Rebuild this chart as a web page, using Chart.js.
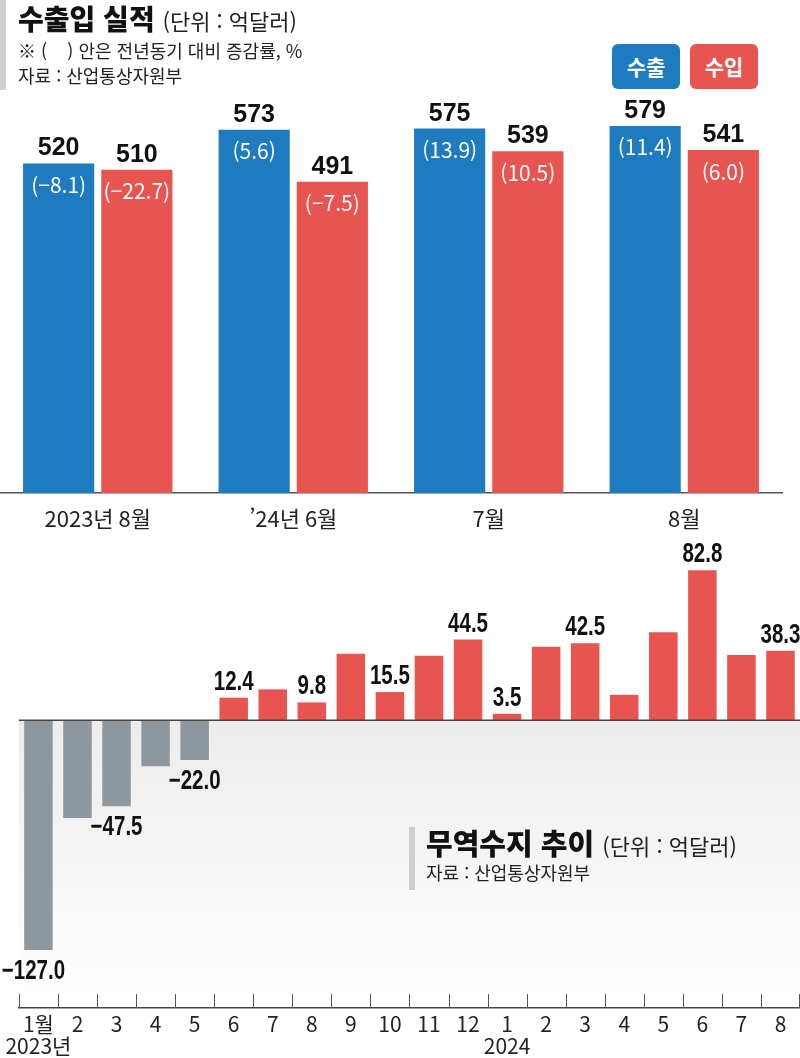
<!DOCTYPE html>
<html lang="ko">
<head>
<meta charset="utf-8">
<script src="https://cdn.jsdelivr.net/npm/chart.js@4"></script>
<style>
  body { margin: 0; background: #fff; font-family: "Noto Sans CJK KR", sans-serif; }
  #wrap { position: relative; width: 800px; height: 1058px; overflow: hidden; }
  canvas { position: absolute; left: 0; }
  #topChart { top: 0; }
  #bottomChart { top: 540px; }
  .bar { position: absolute; background: #cfcfcf; }
  .title { position: absolute; white-space: nowrap; color: #111; line-height: 1; }
  .title b { font-weight: 900; }
  .unit { font-weight: 400; color: #222; }
  .note { position: absolute; white-space: nowrap; color: #222; line-height: 1; }
  .legend { position: absolute; top: 44px; width: 68px; height: 45px; border-radius: 6px;
            color: #fff; font-weight: 700; font-size: 21px; line-height: 45px; text-align: center; }
</style>
</head>
<body>
<div id="wrap">
  <canvas id="topChart" width="800" height="540"></canvas>
  <canvas id="bottomChart" width="800" height="518"></canvas>

  <div class="bar" style="left:0;top:0;width:6px;height:90px;"></div>
  <div class="title" style="left:18px;top:4px;font-size:28px;"><b>수출입 실적</b> <span class="unit" style="font-size:22px;">(단위 : 억달러)</span></div>
  <div class="note" style="left:18px;top:41px;font-size:18px;">※ (&nbsp;&nbsp;&nbsp;&nbsp;) 안은 전년동기 대비 증감률, %</div>
  <div class="note" style="left:18px;top:66px;font-size:18px;">자료 : 산업통상자원부</div>
  <div class="legend" style="left:612px;background:#1e7bbf;">수출</div>
  <div class="legend" style="left:690px;background:#e8544f;">수입</div>

  <div class="bar" style="left:409px;top:827px;width:6px;height:63px;"></div>
  <div class="title" style="left:426px;top:828px;font-size:29px;"><b>무역수지 추이</b> <span class="unit" style="font-size:22px;">(단위 : 억달러)</span></div>
  <div class="note" style="left:426px;top:863px;font-size:18px;">자료 : 산업통상자원부</div>
</div>

<script>
// 수출입 실적
const periods = ['2023년 8월', '’24년 6월', '7월', '8월'];
const exportValues = [520, 573, 575, 579];
const importValues = [510, 491, 539, 541];
const exportRates = ['(−8.1)', '(5.6)', '(13.9)', '(11.4)'];
const importRates = ['(−22.7)', '(−7.5)', '(10.5)', '(6.0)'];

// 무역수지 추이
const months = [['1월', '2023년'], '2', '3', '4', '5', '6', '7', '8', '9', '10', '11', '12',
                ['1', '2024'], '2', '3', '4', '5', '6', '7', '8'];
const balance = [-127.0, -54.0, -47.5, -25.5, -22.0, 12.4, 17.0, 9.8, 36.7, 15.5, 35.6, 44.5,
                 3.5, 40.5, 42.5, 14.0, 48.5, 82.8, 36.0, 38.3];
const balanceLabels = ['−127.0', null, '−47.5', null, '−22.0', '12.4', null, '9.8', null, '15.5', null, '44.5',
                       '3.5', null, '42.5', null, null, '82.8', null, '38.3'];

const BLUE = '#1e7bbf';
const RED = '#e8544f';
const GRAY = '#8e979e';
const NARROW = '"Liberation Sans Narrow", "Noto Sans CJK KR", sans-serif';

// squeeze text horizontally, the print font is a condensed one
function condensedText(ctx, text, x, y, sx) {
    ctx.save();
    ctx.translate(x, y);
    ctx.scale(sx, 1);
    ctx.fillText(text, 0, 0);
    ctx.restore();
}

const topLabels = {
    id: 'topLabels',
    afterDatasetsDraw(chart) {
        const ctx = chart.ctx;
        const rates = [exportRates, importRates];
        ctx.save();
        ctx.textAlign = 'center';
        chart.data.datasets.forEach((ds, di) => {
            chart.getDatasetMeta(di).data.forEach((bar, i) => {
                ctx.fillStyle = '#111';
                ctx.font = 'bold 25px "Liberation Sans", sans-serif';
                ctx.textBaseline = 'alphabetic';
                ctx.fillText(ds.data[i], bar.x, bar.y - 8);
                ctx.fillStyle = '#fff';
                ctx.font = '21px ' + NARROW;
                ctx.textBaseline = 'top';
                ctx.fillText(rates[di][i], bar.x, bar.y + 11);
            });
        });
        ctx.restore();
    }
};

new Chart(document.getElementById('topChart'), {
    type: 'bar',
    data: {
        labels: periods,
        datasets: [
            { label: '수출', data: exportValues, backgroundColor: BLUE },
            { label: '수입', data: importValues, backgroundColor: RED }
        ]
    },
    options: {
        responsive: false,
        animation: false,
        layout: { padding: { top: 100, right: 18, bottom: 0, left: 0 } },
        datasets: { bar: { categoryPercentage: 0.8, barPercentage: 0.91 } },
        plugins: { legend: { display: false }, tooltip: { enabled: false } },
        scales: {
            x: {
                afterFit: scale => { scale.height = 47; },
                grid: { display: false, drawTicks: false },
                border: { display: true, color: '#555', width: 1.5 },
                ticks: { color: '#222', padding: 12, font: { family: NARROW, size: 22 } }
            },
            y: { display: false, min: 0, max: 620 }
        }
    },
    plugins: [topLabels]
});

const balanceDecor = {
    id: 'balanceDecor',
    beforeDatasetsDraw(chart) {
        const ctx = chart.ctx;
        const area = chart.chartArea;
        const y0 = chart.scales.y.getPixelForValue(0);
        ctx.save();
        const grad = ctx.createLinearGradient(0, y0, 0, area.bottom - 14);
        grad.addColorStop(0, '#ececec');
        grad.addColorStop(1, '#ffffff');
        ctx.fillStyle = grad;
        ctx.fillRect(area.left, y0, area.right - area.left, area.bottom - 14 - y0);
        ctx.restore();
    },
    afterDatasetsDraw(chart) {
        const ctx = chart.ctx;
        const area = chart.chartArea;
        const xs = chart.scales.x;
        const y0 = chart.scales.y.getPixelForValue(0);
        ctx.save();
        // zero line
        ctx.strokeStyle = '#444';
        ctx.lineWidth = 1.5;
        ctx.beginPath();
        ctx.moveTo(area.left, y0);
        ctx.lineTo(area.right, y0);
        ctx.stroke();
        // upward ticks between months
        ctx.lineWidth = 1;
        ctx.strokeStyle = '#555';
        const n = balance.length;
        const step = (xs.getPixelForValue(n - 1) - xs.getPixelForValue(0)) / (n - 1);
        for (let i = 0; i <= n; i++) {
            const x = Math.min(Math.round(xs.getPixelForValue(i) - step / 2), area.right - 1) + 0.5;
            ctx.beginPath();
            ctx.moveTo(x, area.bottom - 14);
            ctx.lineTo(x, area.bottom);
            ctx.stroke();
        }
        // value labels
        ctx.fillStyle = '#111';
        ctx.font = 'bold 27px "Liberation Sans", sans-serif';
        ctx.textAlign = 'center';
        chart.getDatasetMeta(0).data.forEach((bar, i) => {
            const text = balanceLabels[i];
            if (!text) return;
            if (balance[i] >= 0) {
                ctx.textBaseline = 'alphabetic';
                condensedText(ctx, text, bar.x, bar.y - 8, 0.76);
            } else {
                ctx.textBaseline = 'top';
                condensedText(ctx, text, i === 0 ? bar.x - 5 : bar.x, bar.y + 8, 0.76);
            }
        });
        ctx.restore();
    }
};

new Chart(document.getElementById('bottomChart'), {
    type: 'bar',
    data: {
        labels: months,
        datasets: [{
            label: '무역수지',
            data: balance,
            backgroundColor: balance.map(v => v < 0 ? GRAY : RED)
        }]
    },
    options: {
        responsive: false,
        animation: false,
        layout: { padding: { top: 0, right: 0, bottom: 0, left: 18 } },
        datasets: { bar: { categoryPercentage: 1, barPercentage: 0.73 } },
        plugins: { legend: { display: false }, tooltip: { enabled: false } },
        scales: {
            x: {
                afterFit: scale => { scale.height = 50; },
                grid: { display: false, drawTicks: false },
                border: { display: true, color: '#444', width: 1.5 },
                ticks: {
                    color: '#222', padding: 5, maxRotation: 0, autoSkip: false,
                    font: { family: NARROW, size: 21, lineHeight: 1.05 }
                }
            },
            y: { display: false, min: -159, max: 99.5 }
        }
    },
    plugins: [balanceDecor]
});
</script>
</body>
</html>
